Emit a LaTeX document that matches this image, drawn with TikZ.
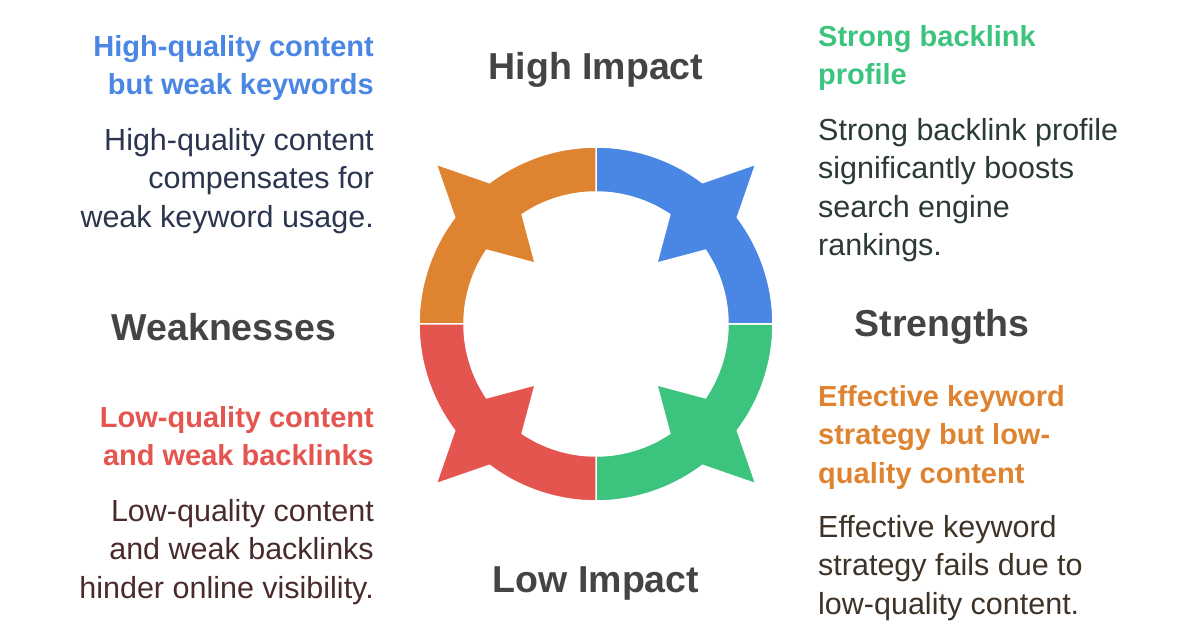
\documentclass[tikz,border=0pt]{standalone}
\usepackage{fontspec}
\setmainfont{Liberation Sans}
\definecolor{cblue}{HTML}{4A86E3}
\definecolor{cgreen}{HTML}{3CC47F}
\definecolor{cred}{HTML}{E55550}
\definecolor{corange}{HTML}{DE8330}
\definecolor{cgray}{HTML}{444444}
\definecolor{tblue}{HTML}{2B3550}
\definecolor{tgreen}{HTML}{2B3B33}
\definecolor{tred}{HTML}{4A2B2B}
\definecolor{torange}{HTML}{3F3328}
\begin{document}
\begin{tikzpicture}[x=1pt,y=-1pt,
  big/.style={font=\fontsize{37.5}{40}\selectfont\bfseries, text=cgray, inner sep=0},
  head/.style={font=\fontsize{29}{38.5}\selectfont\bfseries, inner sep=0},
  body/.style={font=\fontsize{30.5}{38.5}\selectfont, inner sep=0}]
\useasboundingbox (0,0) rectangle (1200,628);
\coordinate (c) at (596,324);
\foreach \r/\col in {0/cgreen,270/cblue,180/corange,90/cred}{
  \begin{scope}[shift={(c)},rotate=-\r]
  \fill[\col,draw=white,line width=1.5pt]
   (90:177) arc[start angle=90,end angle=53,radius=177] -- (45:226) -- (37:177)
   arc[start angle=37,end angle=0,radius=177] -- (0:132)
   arc[start angle=0,end angle=34,radius=132] -- (45:86) -- (56:132)
   arc[start angle=56,end angle=90,radius=132] -- cycle;
  \end{scope}}
\node[big] (hi) at (596,70) {High Impact};
\node[big] (lo) at (596,583) {Low Impact};
\node[big] (wk) at (224,327) {Weaknesses};
\node[big] (st) at (942,327) {Strengths};
\node[head,text=cblue,align=right,anchor=north east] (t1) at (374,35) {High-quality content\\but weak keywords};
\node[body,text=tblue,align=right,anchor=north east] (b1) at (374,128) {High-quality content\\compensates for\\weak keyword usage.};
\node[head,text=cgreen,align=left,anchor=north west] (t2) at (818,25) {Strong backlink\\profile};
\node[body,text=tgreen,align=left,anchor=north west] (b2) at (818,118) {Strong backlink profile\\significantly boosts\\search engine\\rankings.};
\node[head,text=cred,align=right,anchor=north east] (t3) at (374,406) {Low-quality content\\and weak backlinks};
\node[body,text=tred,align=right,anchor=north east] (b3) at (374,499) {Low-quality content\\and weak backlinks\\hinder online visibility.};
\node[head,text=corange,align=left,anchor=north west] (t4) at (818,385) {Effective keyword\\strategy but low-\\quality content};
\node[body,text=torange,align=left,anchor=north west] (b4) at (818,515) {Effective keyword\\strategy fails due to\\low-quality content.};
\end{tikzpicture}
\end{document}
